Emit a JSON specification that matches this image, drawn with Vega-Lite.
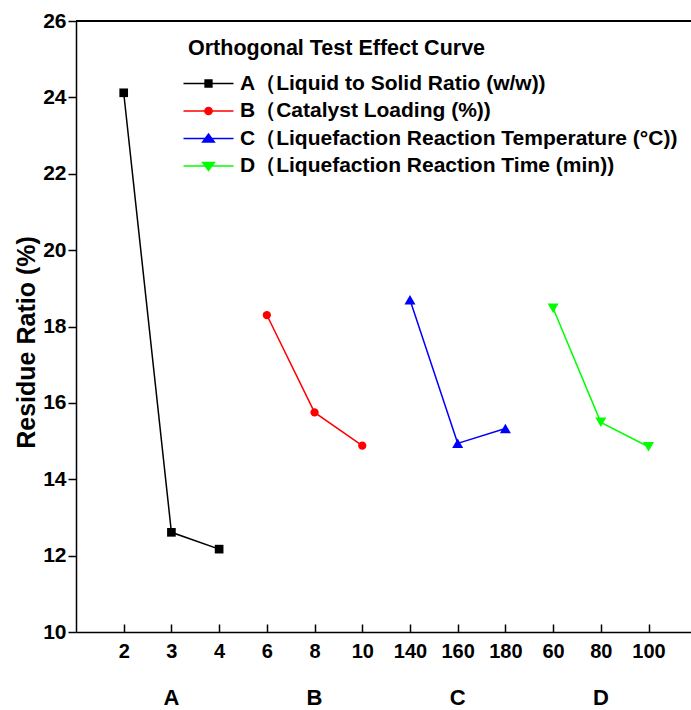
{
  "$schema": "https://vega.github.io/schema/vega-lite/v6.json",
  "width": 615,
  "height": 611,
  "autosize": {"type": "none"},
  "padding": {"left": 76, "top": 21, "right": 0, "bottom": 78},
  "background": "white",
  "config": {"view": {"stroke": null}, "font": "Liberation Sans"},
  "datasets": {
    "points": [
      {"factor": "A（Liquid to Solid Ratio (w/w))", "level": "2", "residue": 24.12},
      {"factor": "A（Liquid to Solid Ratio (w/w))", "level": "3", "residue": 12.61},
      {"factor": "A（Liquid to Solid Ratio (w/w))", "level": "4", "residue": 12.17},
      {"factor": "B（Catalyst Loading (%))", "level": "6", "residue": 18.30},
      {"factor": "B（Catalyst Loading (%))", "level": "8", "residue": 15.75},
      {"factor": "B（Catalyst Loading (%))", "level": "10", "residue": 14.88},
      {"factor": "C（Liquefaction Reaction Temperature (°C))", "level": "140", "residue": 18.70},
      {"factor": "C（Liquefaction Reaction Temperature (°C))", "level": "160", "residue": 14.94},
      {"factor": "C（Liquefaction Reaction Temperature (°C))", "level": "180", "residue": 15.33},
      {"factor": "D（Liquefaction Reaction Time (min))", "level": "60", "residue": 18.48},
      {"factor": "D（Liquefaction Reaction Time (min))", "level": "80", "residue": 15.49},
      {"factor": "D（Liquefaction Reaction Time (min))", "level": "100", "residue": 14.85}
    ],
    "groups": [
      {"group": "A", "level": "3"},
      {"group": "B", "level": "8"},
      {"group": "C", "level": "160"},
      {"group": "D", "level": "80"}
    ]
  },
  "layer": [
    {
      "data": {"name": "points"},
      "mark": {"type": "line", "strokeWidth": 1.5},
      "encoding": {
        "x": {
          "field": "level", "type": "nominal",
          "scale": {"type": "point", "domain": ["2","3","4","6","8","10","140","160","180","60","80","100"], "padding": 0.945, "align": 0.529},
          "axis": {"labelAngle": 0, "tickSize": -8, "labelPadding": 17, "labelFontSize": 20, "labelFontWeight": "bold", "labelColor": "black", "labelFont": "Liberation Sans", "domainColor": "black", "domainWidth": 1.5, "tickColor": "black", "tickWidth": 1.5, "title": null, "grid": false}
        },
        "y": {
          "field": "residue", "type": "quantitative",
          "scale": {"domain": [10, 26], "nice": false, "zero": false},
          "axis": {
            "values": [10,11,12,13,14,15,16,17,18,19,20,21,22,23,24,25,26],
            "labelExpr": "datum.value % 2 === 0 ? datum.label : ''",
            "tickSize": {"condition": {"test": "datum.value % 2 === 0", "value": 8}, "value": -5},
            "labelPadding": 2, "labelFontSize": 21, "labelFontWeight": "bold", "labelColor": "black", "labelFont": "Liberation Sans",
            "domainColor": "black", "domainWidth": 1.5, "tickColor": "black", "tickWidth": 1.5, "grid": false,
            "title": "Residue Ratio (%)", "titleFontSize": 25, "titleFontWeight": "bold", "titleColor": "black", "titleFont": "Liberation Sans", "titlePadding": 3, "titleY": 321
          }
        },
        "color": {
          "field": "factor", "type": "nominal",
          "scale": {"range": ["#000000", "#ff0000", "#0000ff", "#00ff00"]},
          "legend": {
            "orient": "none", "legendX": 112, "legendY": 17, "padding": 0,
            "title": "Orthogonal Test Effect Curve", "titleFontSize": 21.5, "titleFont": "Liberation Sans", "titleFontWeight": "bold", "titleColor": "black", "titlePadding": 13.5, "titleLimit": 600,
            "labelFontSize": 21, "labelFontWeight": "bold", "labelColor": "black", "labelFont": "Liberation Sans", "labelLimit": 600,
            "symbolSize": 64, "symbolOffset": 10, "labelOffset": 21, "rowPadding": 5.5,
            "encode": {
              "symbols": {
                "update": {
                  "shape": {"signal": "substring(datum.value,0,1)==='A' ? 'M-6.25,0H6.25M-0.85,-0.85H0.85V0.85H-0.85Z' : substring(datum.value,0,1)==='B' ? 'M-6.25,0H6.25M-0.9,0A0.9,0.9,0,1,1,0.9,0A0.9,0.9,0,1,1,-0.9,0Z' : substring(datum.value,0,1)==='C' ? 'M-6.25,0H6.25M-1.45,0.9H1.45L0,-1.1Z' : 'M-6.25,0H6.25M-1.45,-0.9H1.45L0,1.1Z'"},
                  "fill": {"scale": "color", "field": "value"},
                  "stroke": {"scale": "color", "field": "value"},
                  "strokeWidth": {"value": 1.5},
                  "opacity": {"value": 1}
                }
              }
            }
          }
        }
      }
    },
    {
      "data": {"name": "points"},
      "mark": {"type": "point", "filled": true, "opacity": 1, "strokeWidth": 0},
      "encoding": {
        "x": {"field": "level", "type": "nominal"},
        "y": {"field": "residue", "type": "quantitative"},
        "color": {"field": "factor", "type": "nominal"},
        "shape": {"field": "factor", "type": "nominal", "scale": {"range": ["square", "circle", "triangle-up", "triangle-down"]}, "legend": null},
        "size": {"field": "factor", "type": "nominal", "scale": {"type": "ordinal", "range": [75, 68, 121, 121]}, "legend": null}
      }
    },
    {
      "data": {"values": [{}]},
      "mark": {"type": "rule", "color": "black", "strokeWidth": 2},
      "encoding": {"y": {"datum": 26}}
    },
    {
      "data": {"name": "groups"},
      "mark": {"type": "text", "fontSize": 22, "fontWeight": "bold", "baseline": "middle", "align": "center", "color": "black", "font": "Liberation Sans"},
      "encoding": {
        "x": {"field": "level", "type": "nominal"},
        "y": {"datum": 8.27},
        "text": {"field": "group"}
      }
    }
  ]
}
